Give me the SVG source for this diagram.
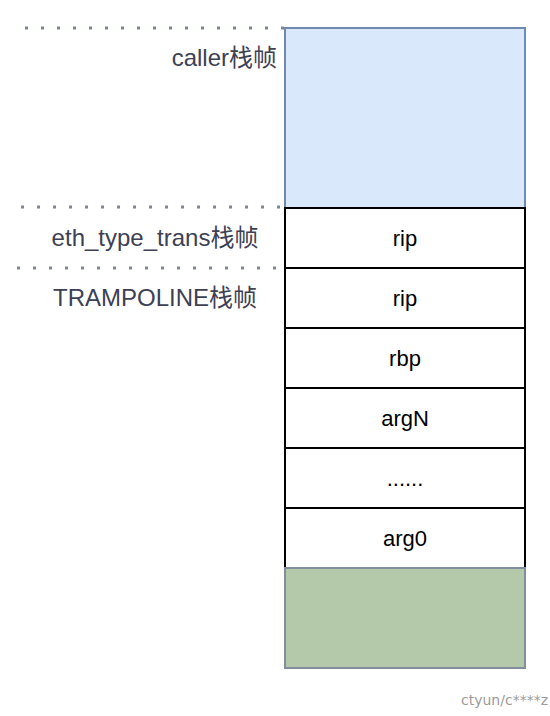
<svg xmlns="http://www.w3.org/2000/svg" width="550" height="716" viewBox="0 0 550 716">
  <style>
    .cell { fill: #ffffff; stroke: #000000; stroke-width: 2; }
    .celltxt { font-family: "Liberation Sans", Arial, "Noto Sans CJK SC", sans-serif; font-size: 22px; fill: #000000; text-anchor: middle; }
    .label { font-family: "Liberation Sans", Arial, "Noto Sans CJK SC", sans-serif; font-size: 24px; fill: #3d4153; }
    .sep { stroke: #7d8796; stroke-width: 3; stroke-dasharray: 3 13; fill: none; }
    .wm { font-family: "DejaVu Sans", Verdana, sans-serif; font-size: 14px; fill: #9b9b9b; }
  </style>
  <rect width="550" height="716" fill="#ffffff"/>

  <g id="connectors">
    <line class="sep" x1="25" y1="28" x2="285" y2="28"/>
    <line class="sep" x1="21" y1="207" x2="285" y2="207"/>
    <line class="sep" x1="17" y1="268" x2="285" y2="268"/>
  </g>

  <g id="caller-frame">
    <rect x="285" y="28" width="240" height="180" fill="#dae8fc" stroke="#7089b4" stroke-width="2"/>
  </g>
  <g id="rip1">
    <rect class="cell" x="285" y="208" width="240" height="60"/>
    <text class="celltxt" x="405" y="246">rip</text>
  </g>
  <g id="rip2">
    <rect class="cell" x="285" y="268" width="240" height="60"/>
    <text class="celltxt" x="405" y="306">rip</text>
  </g>
  <g id="rbp">
    <rect class="cell" x="285" y="328" width="240" height="60"/>
    <text class="celltxt" x="405" y="366">rbp</text>
  </g>
  <g id="argN">
    <rect class="cell" x="285" y="388" width="240" height="60"/>
    <text class="celltxt" x="405" y="426">argN</text>
  </g>
  <g id="ellipsis">
    <rect class="cell" x="285" y="448" width="240" height="60"/>
    <text class="celltxt" x="405" y="486">......</text>
  </g>
  <g id="arg0">
    <rect class="cell" x="285" y="508" width="240" height="60"/>
    <text class="celltxt" x="405" y="546">arg0</text>
  </g>
  <g id="bottom-frame">
    <rect x="285" y="568" width="240" height="100" fill="#b3c9aa" stroke="#838da0" stroke-width="2"/>
  </g>

  <g id="label-caller">
    <text class="label" x="277" y="66" text-anchor="end">caller栈帧</text>
  </g>
  <g id="label-eth">
    <text class="label" x="155" y="246" text-anchor="middle">eth_type_trans栈帧</text>
  </g>
  <g id="label-trampoline">
    <text class="label" x="155" y="306" text-anchor="middle">TRAMPOLINE栈帧</text>
  </g>

  <text class="wm" x="548" y="705" text-anchor="end">ctyun/c****z</text>
</svg>
